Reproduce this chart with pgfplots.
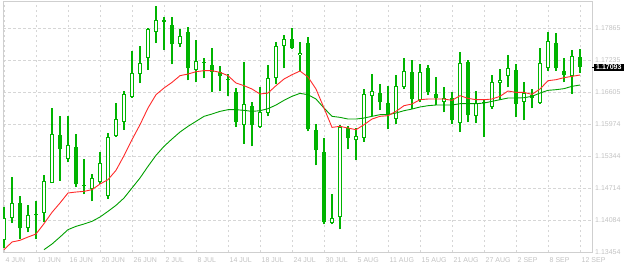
\documentclass[border=0pt]{standalone}
\usepackage{fontspec}
\setmainfont{Liberation Sans}
\usepackage{pgfplots}
\usepackage{pgfplotstable}
\pgfplotsset{compat=1.18}
\definecolor{cg}{HTML}{00B400}
\definecolor{mared}{HTML}{FF2A2A}
\definecolor{magreen}{HTML}{00A000}
\definecolor{gridc}{HTML}{D6D6D6}
\definecolor{framec}{HTML}{CFCFCF}
\definecolor{labc}{HTML}{C2C2C2}

% daily candles: open high low close
\pgfplotstableread{
o h l c
1.13697 1.14346 1.13533 1.14123
1.14123 1.14937 1.14025 1.14419
1.14419 1.14563 1.13710 1.13920
1.13920 1.14379 1.13841 1.14182
1.14202 1.14458 1.13710 1.14176
1.14222 1.14976 1.14038 1.14852
1.14812 1.16289 1.14806 1.15777
1.15757 1.16138 1.14858 1.15482
1.15285 1.16138 1.15219 1.15561
1.15528 1.15784 1.14727 1.14786
1.14752 1.15291 1.14589 1.14756
1.14688 1.14996 1.14451 1.14911
1.14826 1.15429 1.14786 1.15206
1.14550 1.15797 1.14504 1.15718
1.15731 1.16387 1.15718 1.16072
1.16013 1.16630 1.15862 1.16565
1.16506 1.17418 1.16492 1.16978
1.16958 1.17516 1.16775 1.17175
1.17273 1.17857 1.17044 1.17844
1.17785 1.18291 1.17569 1.18021
1.18021 1.18074 1.17437 1.17982
1.17930 1.18087 1.17149 1.17542
1.17549 1.17851 1.17483 1.17706
1.17785 1.17890 1.16834 1.17070
1.17037 1.17628 1.16794 1.17214
1.17178 1.17273 1.16873 1.17182
1.17136 1.17470 1.16597 1.16998
1.16991 1.17109 1.16617 1.16912
1.16847 1.16965 1.16519 1.16843
1.16611 1.16683 1.15915 1.16007
1.15954 1.17201 1.15587 1.16368
1.16328 1.16414 1.15534 1.15948
1.15915 1.16702 1.15902 1.16210
1.16191 1.17142 1.16125 1.16880
1.16880 1.17582 1.16768 1.17510
1.17503 1.17733 1.17070 1.17647
1.17647 1.17871 1.17451 1.17464
1.17332 1.17595 1.17017 1.17378
1.17575 1.17687 1.15830 1.15869
1.15862 1.15981 1.15160 1.15456
1.15429 1.15705 1.13999 1.14038
1.14025 1.14602 1.13999 1.14123
1.14143 1.15961 1.13900 1.15908
1.15895 1.15941 1.15475 1.15692
1.15652 1.15902 1.15259 1.15744
1.15698 1.16670 1.15620 1.16565
1.16525 1.16965 1.16125 1.16630
1.16584 1.16768 1.16256 1.16401
1.16387 1.16729 1.15869 1.16145
1.16072 1.16939 1.15967 1.16722
1.16702 1.17280 1.16663 1.17024
1.17004 1.17234 1.16276 1.16460
1.16453 1.17149 1.16401 1.17004
1.17083 1.17142 1.16545 1.16597
1.16571 1.16906 1.16348 1.16479
1.16407 1.16709 1.16204 1.16486
1.16492 1.16611 1.15981 1.16046
1.15994 1.17398 1.15816 1.17175
1.17195 1.17227 1.16007 1.16145
1.16131 1.16630 1.15987 1.16381
1.16387 1.16466 1.15718 1.16394
1.16309 1.16945 1.16276 1.16801
1.16781 1.17063 1.16453 1.16840
1.16926 1.17339 1.16696 1.17076
1.17044 1.17162 1.16105 1.16368
1.16414 1.16807 1.16046 1.16578
1.16551 1.16670 1.16282 1.16486
1.16387 1.17464 1.16374 1.17175
1.17076 1.17779 1.17024 1.17608
1.17569 1.17772 1.17024 1.17070
1.17024 1.17273 1.16794 1.16939
1.16912 1.17431 1.16565 1.17313
1.17293 1.17457 1.16978 1.17093
}\candles

% fast moving average (red)
\pgfplotstableread{
x v
0 1.13500
1 1.13651
2 1.13684
3 1.13749
4 1.13808
5 1.14012
6 1.14235
7 1.14419
8 1.14616
9 1.14635
10 1.14648
11 1.14681
12 1.14793
13 1.14878
14 1.15062
15 1.15351
16 1.15666
17 1.15961
18 1.16289
19 1.16551
20 1.16683
21 1.16794
22 1.16926
23 1.16958
24 1.17004
25 1.17024
26 1.17024
27 1.16991
28 1.16926
29 1.16781
30 1.16729
31 1.16663
32 1.16565
33 1.16584
34 1.16729
35 1.16860
36 1.16945
37 1.17017
38 1.16899
39 1.16663
40 1.16289
41 1.15908
42 1.15928
43 1.15895
44 1.15862
45 1.15961
46 1.16072
47 1.16125
48 1.16138
49 1.16223
50 1.16335
51 1.16368
52 1.16453
53 1.16466
54 1.16466
55 1.16466
56 1.16440
57 1.16532
58 1.16479
59 1.16453
60 1.16453
61 1.16466
62 1.16519
63 1.16624
64 1.16597
65 1.16597
66 1.16558
67 1.16663
68 1.16827
69 1.16847
70 1.16886
71 1.16912
72 1.16939
}\mafast

% slow moving average (green)
\pgfplotstableread{
x v
5 1.13500
6 1.13611
7 1.13749
8 1.13894
9 1.13959
10 1.14005
11 1.14058
12 1.14143
13 1.14255
14 1.14373
15 1.14517
16 1.14714
17 1.14911
18 1.15141
19 1.15357
20 1.15534
21 1.15679
22 1.15816
23 1.15928
24 1.16026
25 1.16125
26 1.16171
27 1.16223
28 1.16256
29 1.16256
30 1.16243
31 1.16223
32 1.16236
33 1.16276
34 1.16348
35 1.16440
36 1.16519
37 1.16578
38 1.16551
39 1.16466
40 1.16289
41 1.16125
42 1.16105
43 1.16072
44 1.16072
45 1.16092
46 1.16125
47 1.16158
48 1.16158
49 1.16191
50 1.16236
51 1.16269
52 1.16309
53 1.16335
54 1.16348
55 1.16348
56 1.16348
57 1.16374
58 1.16374
59 1.16374
60 1.16387
61 1.16420
62 1.16453
63 1.16486
64 1.16486
65 1.16492
66 1.16519
67 1.16584
68 1.16637
69 1.16650
70 1.16670
71 1.16716
72 1.16742
}\maslow

\begin{document}
\begin{tikzpicture}
\useasboundingbox (0,0) rectangle (624pt,266pt);
\begin{axis}[
  at={(3pt,14pt)}, anchor=south west,
  scale only axis, width=589pt, height=251pt,
  xmin=-0.125, xmax=73.5,
  ymin=1.13454, ymax=1.18396,
  axis line style={draw=framec, line width=1pt},
  grid=major,
  grid style={gridc, dash pattern=on 2.5pt off 2.5pt, line width=0.9pt},
  major tick length=0pt,
  xtick={0,4,...,72},
  xticklabels={4 JUN,10 JUN,16 JUN,20 JUN,26 JUN,2 JUL,8 JUL,14 JUL,18 JUL,24 JUL,30 JUL,5 AUG,11 AUG,15 AUG,21 AUG,27 AUG,2 SEP,8 SEP,12 SEP},
  ytick={1.13454,1.14084,1.14714,1.15344,1.15974,1.16605,1.17235,1.17865},
  yticklabels={1.13454,1.14084,1.14714,1.15344,1.15974,1.16605,1.17235,1.17865},
  yticklabel pos=right,
  xticklabel style={anchor=north west, inner sep=0pt, xshift=1.5pt, yshift=-5pt,
    font=\fontsize{7}{8}\selectfont, text=labc},
  yticklabel style={anchor=west, inner sep=0pt, xshift=3pt,
    font=\fontsize{7}{8}\selectfont, text=labc},
]
% wicks
\addplot[draw=none, mark=none, error bars/.cd, y dir=plus, y explicit, error mark=none,
  error bar style={draw=cg, line width=1.1pt}]
  table[x expr=\coordindex, y=l, y error plus expr=\thisrow{h}-\thisrow{l}] {\candles};
% bodies (solid green)
\addplot[draw=none, mark=none, error bars/.cd, y dir=plus, y explicit, error mark=none,
  error bar style={draw=cg, line width=4.8pt}]
  table[x expr=\coordindex, y expr={min(\thisrow{o},\thisrow{c})},
        y error plus expr={max(abs(\thisrow{c}-\thisrow{o}),0.00021)}] {\candles};
% hollow interior of rising candles
\addplot[draw=none, mark=none, error bars/.cd, y dir=plus, y explicit, error mark=none,
  error bar style={draw=white, line width=2.6pt}]
  table[x expr=\coordindex, y expr={\thisrow{o}+0.00022},
        y error plus expr={max(\thisrow{c}-\thisrow{o}-0.00044,0)}] {\candles};
% moving averages
\addplot[magreen, mark=none, line width=0.9pt] table[x=x, y=v] {\maslow};
\addplot[mared, mark=none, line width=0.9pt] table[x=x, y=v] {\mafast};
\coordinate (lastp) at (axis cs:73.5,1.17093);
\end{axis}
\draw[black, line width=1pt] (lastp) -- ++(2.5pt,0);
\node[fill=black, text=white, anchor=west, inner xsep=2pt, inner ysep=0pt,
  minimum height=6.8pt, font=\fontsize{7}{8}\selectfont\bfseries]
  at ([xshift=2pt]lastp) {1.17093};
\end{tikzpicture}
\end{document}
